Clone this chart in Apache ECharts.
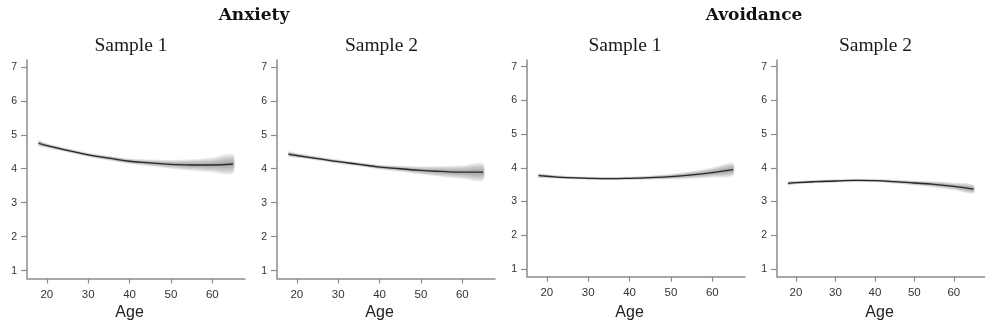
<!DOCTYPE html>
<html><head><meta charset="utf-8">
<script src="https://cdn.jsdelivr.net/npm/echarts@6/dist/echarts.min.js"></script>
<style>html,body{margin:0;padding:0;background:#fff}#c{width:985px;height:329px}</style>
</head><body><div id="c"></div>
<script>
// ---- data ----
const ages = [18, 20, 25, 30, 35, 40, 45, 50, 55, 60, 65];
const xTicks = [20, 30, 40, 50, 60];
const yTicks = [1, 2, 3, 4, 5, 6, 7];

const anxietyS1Fit  = [4.75, 4.68, 4.54, 4.41, 4.31, 4.22, 4.17, 4.13, 4.11, 4.11, 4.14];
const anxietyS1Half = [0.08, 0.07, 0.06, 0.06, 0.07, 0.08, 0.10, 0.13, 0.17, 0.22, 0.29];
const anxietyS2Fit  = [4.43, 4.39, 4.30, 4.21, 4.13, 4.05, 4.00, 3.95, 3.92, 3.90, 3.90];
const anxietyS2Half = [0.08, 0.07, 0.06, 0.06, 0.06, 0.07, 0.09, 0.12, 0.16, 0.20, 0.26];
const avoidS1Fit    = [3.77, 3.75, 3.71, 3.69, 3.68, 3.69, 3.71, 3.74, 3.79, 3.86, 3.95];
const avoidS1Half   = [0.07, 0.06, 0.05, 0.05, 0.05, 0.05, 0.06, 0.08, 0.11, 0.15, 0.20];
const avoidS2Fit    = [3.54, 3.56, 3.59, 3.61, 3.63, 3.62, 3.59, 3.55, 3.51, 3.45, 3.37];
const avoidS2Half   = [0.06, 0.05, 0.05, 0.05, 0.05, 0.05, 0.06, 0.07, 0.09, 0.11, 0.14];

const groupTitles = ['Anxiety', 'Avoidance'];
const sampleTitles = ['Sample 1', 'Sample 2', 'Sample 1', 'Sample 2'];
const xAxisName = 'Age';

// band layering (gradient look)
const bandShares = [1, 0.83, 0.67, 0.5, 0.33, 0.17];

// ---- layout ----
const panels = [
  {fit: anxietyS1Fit, half: anxietyS1Half, left: 27,  height: 218.5, titleX: 131},
  {fit: anxietyS2Fit, half: anxietyS2Half, left: 277, height: 218.5, titleX: 381.5},
  {fit: avoidS1Fit,   half: avoidS1Half,   left: 527, height: 216.7, titleX: 625},
  {fit: avoidS2Fit,   half: avoidS2Half,   left: 777, height: 216.7, titleX: 875.5}
];
const X_MIN = 15.2, X_MAX = 67.9, Y_MIN = 0.77, Y_MAX = 7.2;
const GRID_W = 218, GRID_TOP = 60;
const axisColor = '#8c8c8c', labelColor = '#333';

const grid = [], xAxis = [], yAxis = [], series = [], graphic = [];

panels.forEach((p, k) => {
  grid.push({left: p.left, top: GRID_TOP, width: GRID_W, height: p.height});
  xAxis.push({
    type: 'value', gridIndex: k, min: X_MIN, max: X_MAX,
    axisLine: {show: true, lineStyle: {color: axisColor, width: 1.5}},
    axisTick: {show: true, length: 5, customValues: xTicks, lineStyle: {color: axisColor, width: 1.2}},
    axisLabel: {customValues: xTicks, margin: 10, color: labelColor, fontSize: 11.5, fontFamily: 'Liberation Sans'},
    splitLine: {show: false}
  });
  yAxis.push({
    type: 'value', gridIndex: k, min: Y_MIN, max: Y_MAX,
    axisLine: {show: true, lineStyle: {color: axisColor, width: 1.5}},
    axisTick: {show: true, length: 6, customValues: yTicks, lineStyle: {color: axisColor, width: 1.2}},
    axisLabel: {customValues: yTicks, margin: 10, color: labelColor, fontSize: 10.5, fontFamily: 'Liberation Sans'},
    splitLine: {show: false}
  });
  series.push({
    type: 'custom', xAxisIndex: k, yAxisIndex: k, silent: true, z: 1,
    data: bandShares.map(f => [ages[0], p.fit[0], f]),
    renderItem: function (params, api) {
      const f = api.value(2);
      const upper = [], lower = [];
      for (let i = 0; i < ages.length; i++) upper.push(api.coord([ages[i], p.fit[i] + f * p.half[i]]));
      for (let i = ages.length - 1; i >= 0; i--) lower.push(api.coord([ages[i], p.fit[i] - f * p.half[i]]));
      return {type: 'polygon', shape: {points: upper.concat(lower), smooth: 0.25},
              style: {fill: 'rgba(80,80,80,0.10)'}};
    }
  });
  series.push({
    type: 'line', xAxisIndex: k, yAxisIndex: k, z: 3,
    data: ages.map((a, i) => [a, p.fit[i]]),
    smooth: true, showSymbol: false, silent: true,
    lineStyle: {color: '#2a2a2a', width: 1.3}
  });
  graphic.push({type: 'text', x: p.titleX, y: 46, silent: true,
    style: {text: sampleTitles[k], textAlign: 'center', textVerticalAlign: 'middle',
            font: '19.5px "Liberation Serif"', fill: '#1a1a1a'}});
  graphic.push({type: 'text', x: p.left + (40 - X_MIN) / (X_MAX - X_MIN) * GRID_W, y: 313, silent: true,
    style: {text: xAxisName, textAlign: 'center', textVerticalAlign: 'middle',
            font: '16px "Liberation Sans"', fill: '#222'}});
});

graphic.push({type: 'text', x: 254, y: 16, silent: true,
  style: {text: groupTitles[0], textAlign: 'center', textVerticalAlign: 'middle',
          font: 'bold 17px "DejaVu Serif"', fill: '#111'}});
graphic.push({type: 'text', x: 754, y: 16, silent: true,
  style: {text: groupTitles[1], textAlign: 'center', textVerticalAlign: 'middle',
          font: 'bold 17px "DejaVu Serif"', fill: '#111'}});

const chart = echarts.init(document.getElementById('c'), null, {renderer: 'canvas'});
chart.setOption({animation: false, backgroundColor: '#fff', grid, xAxis, yAxis, series, graphic});
</script></body></html>
